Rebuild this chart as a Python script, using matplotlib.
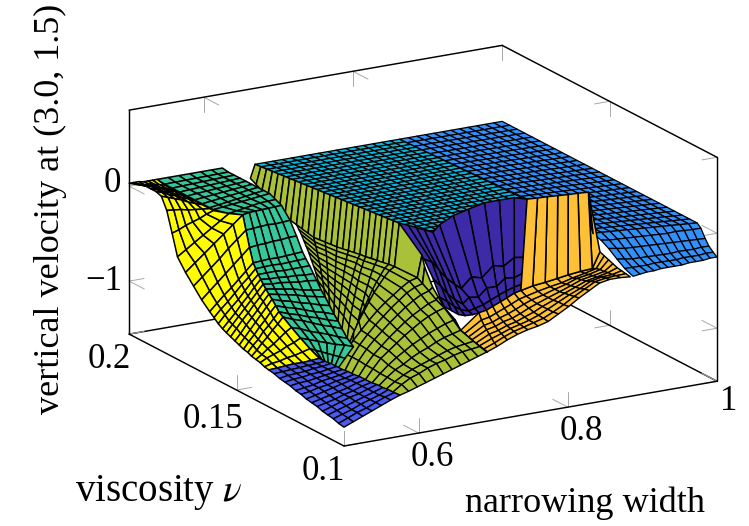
import numpy as np
import matplotlib
matplotlib.use("Agg")
import matplotlib.pyplot as plt
from mpl_toolkits.mplot3d import proj3d
from mpl_toolkits.mplot3d.art3d import Poly3DCollection

plt.rcParams['font.family'] = ['Liberation Serif', 'DejaVu Serif']
plt.rcParams['mathtext.fontset'] = 'stix'

X_LIM = (0.5, 1.0)
Y_LIM = (0.1, 0.2)
Z_LIM = (-1.558, 0.8)
x_ticks = [0.6, 0.8, 1.0]
y_ticks = [0.1, 0.15, 0.2]
z_ticks = [-1, 0]

# ---- patch outlines, in mesh units: x = 0.5 + 0.0125*i, y = 0.1 + 0.0025*j
# royal blue patch
royal_z = [
 [-1.36,-1.32,-1.28,-1.24,-1.2,-1.16,-1.125],[-1.35,-1.31,-1.27,-1.24,-1.2,-1.16,-1.13],
 [-1.33,-1.3,-1.27,-1.23,-1.2,-1.17,-1.13],[-1.32,-1.29,-1.26,-1.23,-1.2,-1.17,-1.14],
 [-1.31,-1.28,-1.25,-1.22,-1.2,-1.17,-1.14],[-1.29,-1.27,-1.25,-1.22,-1.2,-1.17,-1.15],
 [-1.28,-1.26,-1.24,-1.22,-1.2,-1.17,-1.15],[-1.27,-1.25,-1.23,-1.21,-1.19,-1.17,-1.15],
 [-1.25,-1.24,-1.22,-1.21,-1.19,-1.18,-1.16],[-1.24,-1.23,-1.22,-1.2,-1.19,-1.18,-1.16],
 [-1.22,-1.21,-1.21,-1.2,-1.19,-1.18,-1.17],[-1.21,-1.2,-1.2,-1.19,-1.19,-1.18,-1.17],
 [-1.2,-1.19,-1.19,-1.19,-1.18,-1.18,-1.17],[-1.18,-1.18,-1.18,-1.18,-1.18,-1.18,-1.18],
 [-1.17,-1.17,-1.17,-1.17,-1.18,-1.18,-1.18]]
royal_li = [0]*15
royal_lj = [0,1,2,3,4,5,6,7,8,9,10,11,12,13,14]
royal_ri = [6]*15
royal_rj = [0,1.07,2.14,3.21,4.29,5.36,6.43,7.5,8.57,9.64,10.71,11.79,12.86,13.93,15]

# yellow patch
yellow_z = [
 [.03,.03,.03,.02,.02,.02,.02],[.05,.04,.03,.03,.02,.01,0],[.07,.06,.05,.04,.02,.01,0],
 [.09,.08,.06,.05,.03,.02,0],[.09,.08,.06,.05,.03,.02,0],[.09,.08,.06,.05,.03,.02,0],
 [.07,.06,.05,.04,.02,.01,0],[-.05,-.04,-.03,-.03,-.02,-.01,0],[-.26,-.22,-.17,-.13,-.09,-.04,0],
 [-.48,-.40,-.32,-.24,-.16,-.08,0],[-.6,-.5,-.4,-.3,-.2,-.1,0],[-.70,-.61,-.52,-.43,-.33,-.24,-.15],
 [-.80,-.72,-.64,-.56,-.48,-.40,-.32],[-.88,-.81,-.74,-.68,-.61,-.54,-.47],[-.92,-.85,-.79,-.72,-.65,-.59,-.52],
 [-.96,-.89,-.83,-.77,-.70,-.63,-.57],[-.99,-.93,-.87,-.80,-.74,-.67,-.61],[-1.01,-.95,-.89,-.83,-.77,-.71,-.65],
 [-1.03,-.97,-.91,-.86,-.80,-.75,-.69],[-1.05,-1.0,-.94,-.89,-.84,-.78,-.73],[-1.07,-1.02,-.97,-.92,-.87,-.82,-.77],
 [-1.09,-1.04,-1.0,-.95,-.91,-.86,-.82],[-1.10,-1.06,-1.03,-.98,-.95,-.91,-.87],[-1.12,-1.09,-1.05,-1.02,-.98,-.95,-.91],
 [-1.13,-1.11,-1.08,-1.06,-1.03,-1.0,-.98],[-1.14,-1.12,-1.11,-1.10,-1.08,-1.07,-1.05],[-1.16,-1.15,-1.15,-1.14,-1.14,-1.13,-1.12],
 [-1.17,-1.17,-1.17,-1.17,-1.18,-1.18,-1.18]]
yellow_li = [0]*28
yellow_lj = [40,39,38,37,36,35,34,33,32,31,29.5,28,26.5,25,24.2,23.4,22.6,21.9,21.1,20.3,19.5,18.7,17.9,17.2,16.4,15.6,14.8,14]
yellow_ri = [3,3,3,3,3,3,3,3,3,3.8,4.7,4.8,4.9,5,5.04,5.08,5.12,5.16,5.2,5.25,5.3,5.35,5.4,5.5,5.6,5.7,5.85,6]
yellow_rj = [40,38.6,37.2,35.8,34.4,33,31.6,30.2,29.5,28,27,26.6,26.1,25.6,25.2,24.8,24.4,24,23.6,23.1,22.6,22,21.5,20.9,19.5,18,16.5,15]

# teal patch (left side shared with yellow)
teal_z = [
 [.02]*7,[.01]*7,[.01]*7,[.01]*7,[.01]*7,[.01]*7,[.01]*7,[.01]*7,[.01]*7,
 [0,0,0,0,0,-.01,-.02],[0,0,-.01,-.02,-.03,-.04,-.05],
 [-.15,-.15,-.15,-.15,-.16,-.16,-.16],[-.32,-.31,-.31,-.30,-.30,-.29,-.29],
 [-.47,-.46,-.45,-.45,-.44,-.43,-.42],[-.52,-.51,-.50,-.50,-.49,-.48,-.47],
 [-.57,-.56,-.55,-.55,-.54,-.53,-.52],[-.61,-.61,-.60,-.60,-.59,-.59,-.58],
 [-.65,-.65,-.64,-.64,-.64,-.63,-.63],[-.69,-.69,-.69,-.69,-.70,-.70,-.70],
 [-.73,-.73,-.73,-.73,-.74,-.74,-.74],[-.77,-.78,-.78,-.79,-.79,-.80,-.80],
 [-.82,-.83,-.83,-.84,-.85,-.85,-.86],[-.87,-.88,-.88,-.89,-.89,-.90,-.90],
 [-.91,-.92,-.92,-.93,-.94,-.94,-.95],[-.98,-.98,-.99,-.99,-.99,-1.0,-1.0],
 [-1.05,-1.05,-1.05,-1.05,-1.05,-1.04,-1.04],[-1.12,-1.12,-1.12,-1.12,-1.12,-1.12,-1.12],
 [-1.18,-1.18,-1.19,-1.19,-1.19,-1.2,-1.2]]
teal_ri = [10]*13+[9.95,9.9,9.85,9.8,9.75,9.65,9.5,9.4,9.3,9.15,9,8.7,8.5,7.2,6]
teal_rj = [40,38.9,37.8,36.7,35.6,34.5,33.4,32.3,31.2,30.1,29,27.4,26.2,25,24.3,23.5,22.7,22,21,20,19,18,17,16,14.5,13,12.3,11.7]

# olive wall: lower edge (base) and top edge, row by row
base_i = [13,13.1,13.2,13.3,13.4,13.5,13.6,13.7,13.8,13.9,14,14.1,14.2,14.3,14.4,14.5,14.6,14.7,14.8,14.9,15,15.1,15.2,15.3,15.4,15.5,
          16.5,16.6,16.7,16.8,16.8,16.8,16.7,15.9,15.3]
base_j = [40,39.1,38.2,37.3,36.4,35.5,34.6,33.7,32.8,31.9,31,30.1,29.2,28.3,27.4,26.5,25.6,24.7,23.8,22.9,22,21.1,20.2,19.3,18.4,17.5,
          15,14.2,13.2,12,10.5,8.8,7.3,3.5,0]
base_z = [-.14,-.18,-.22,-.26,-.31,-.35,-.38,-.41,-.43,-.45,-.48,-.49,-.49,-.49,-.49,-.49,-.49,-.48,-.48,-.47,-.47,-.46,-.46,-.46,-.45,-.45,
          -.51,-.55,-.60,-.66,-.70,-.78,-.84,-.83,-.83]
top_i = [13.5,13.6,13.7,13.8,13.9,14,14.1,14.2,14.3,14.4,14.5,14.6,14.7,14.8,14.9,15,15.1,15.2,15.3,15.4,15.5,15.6,15.7,15.8,15.9,16,
         17,17,17,17,17,17,17,16,15.4]
top_j = base_j[:26]+[15,14.5,13,12,10.8,8.8,7.8,3.5,0]
top_z = [0]*26+[-.28,-.39,-.56,-.63,-.71,-.78,-.86,-.84,-.83]

# olive floor: from the wall base across to the teal and royal blue patches
floor_bi = [13.8,14.1,14.3,14.5,14.7,14.9,15,15.2,15.4,15.5,16.5,16.6,16.7,16.8,16.8,16.8,16.7,15.9,15.6,15.3]
floor_bj = [32.8,30.1,28.3,26.5,24.7,22.9,22,20.2,18.4,17.5,15,14.2,13.2,12,10.5,8.8,7.3,3.5,1.8,0]
floor_fi = [9.6,9.5,9.4,9.3,9.15,9,8.7,8.5,7.7,6.9,6,6,6,6,6,6,6,6,6,6]
floor_fj = [21,20,19,18,17,16,14.5,13,12.5,12.1,11.7,10.4,9.1,7.8,6.5,5.2,3.9,2.6,1.3,0]
floor_z = [
 [-.43,-.44,-.45,-.47,-.49,-.51,-.54,-.57,-.60,-.65,-.70],
 [-.49,-.50,-.51,-.53,-.55,-.57,-.59,-.62,-.65,-.69,-.74],
 [-.49,-.50,-.51,-.53,-.56,-.59,-.62,-.65,-.69,-.74,-.80],
 [-.49,-.50,-.52,-.54,-.57,-.60,-.64,-.68,-.73,-.79,-.86],
 [-.48,-.49,-.51,-.54,-.57,-.61,-.65,-.70,-.75,-.82,-.90],
 [-.47,-.48,-.50,-.54,-.58,-.62,-.67,-.72,-.78,-.85,-.95],
 [-.47,-.48,-.51,-.54,-.59,-.63,-.69,-.75,-.81,-.89,-1.0],
 [-.46,-.47,-.50,-.54,-.59,-.64,-.70,-.76,-.83,-.92,-1.04],
 [-.45,-.46,-.50,-.54,-.59,-.65,-.72,-.79,-.87,-.97,-1.1],
 [-.45,-.46,-.50,-.55,-.60,-.67,-.74,-.81,-.90,-1.01,-1.15],
 [-.51,-.52,-.56,-.61,-.66,-.72,-.79,-.87,-.95,-1.06,-1.2],
 [-.55,-.56,-.59,-.64,-.69,-.75,-.81,-.88,-.96,-1.06,-1.19],
 [-.60,-.61,-.64,-.68,-.73,-.78,-.84,-.90,-.97,-1.06,-1.18],
 [-.66,-.67,-.70,-.73,-.77,-.82,-.87,-.93,-.99,-1.07,-1.17],
 [-.70,-.71,-.73,-.76,-.80,-.84,-.89,-.94,-.99,-1.07,-1.16],
 [-.78,-.79,-.81,-.83,-.86,-.89,-.93,-.97,-1.02,-1.08,-1.15],
 [-.84,-.85,-.86,-.88,-.91,-.93,-.96,-1.0,-1.03,-1.08,-1.14],
 [-.83,-.84,-.85,-.87,-.90,-.93,-.96,-.99,-1.03,-1.08,-1.14],
 [-.83,-.84,-.85,-.87,-.90,-.92,-.95,-.99,-1.02,-1.07,-1.13],
 [-.83,-.86,-.89,-.92,-.95,-.98,-1.01,-1.04,-1.07,-1.10,-1.125]]

# dark purple patch
purple_z = [
 [0]*12,
 [-.28,-.3,-.38,-.45,-.50,-.58,-.50,-.54,-.44,-.46,-.38,-.37],
 [-.45,-.52,-.6,-.65,-.69,-.64,-.66,-.58,-.58,-.50,-.50,-.45],
 [-.62,-.66,-.71,-.74,-.75,-.73,-.70,-.66,-.61,-.57,-.53,-.50],
 [-.70,-.74,-.78,-.79,-.78,-.76,-.73,-.69,-.64,-.60,-.55,-.52]]
purple_ti = [16,16.4,16.7,17,17.3,19,21.5,23.7,26,27.6,29.2,30]
purple_tj = [17.5,16.5,15.5,14.5,13.5,15.2,17,18,19,19,19,18]
purple_bi = [17,17.55,18.1,18.6,19.2,19.7,20.3,20.8,21.4,21.9,22.5,23]
purple_bj = [10.8,10.45,10.1,9.75,9.4,9.1,8.7,8.4,8,7.7,7.35,7]
purple_f = [0,.55,.75,.9,1]

# orange floor
orange_z = [
 [-.86,-.76,-.73,-.69,-.64,-.60,-.55,-.52,-.48,-.45,-.42,-.39,-.36,-.34,-.19],
 [-.86,-.79,-.76,-.72,-.67,-.63,-.58,-.55,-.51,-.47,-.44,-.40,-.36,-.32,-.21],
 [-.86,-.80,-.77,-.73,-.69,-.65,-.60,-.56,-.52,-.47,-.43,-.38,-.35,-.31,-.23],
 [-.85,-.80,-.77,-.73,-.70,-.66,-.61,-.57,-.52,-.47,-.42,-.37,-.34,-.31,-.25],
 [-.85,-.80,-.77,-.73,-.70,-.66,-.62,-.57,-.52,-.46,-.41,-.36,-.33,-.30,-.27],
 [-.84,-.80,-.76,-.72,-.69,-.66,-.62,-.57,-.51,-.45,-.40,-.34,-.31,-.30,-.28],
 [-.84,-.80,-.75,-.71,-.68,-.65,-.62,-.57,-.51,-.44,-.38,-.32,-.30,-.29,-.29],
 [-.83,-.79,-.74,-.70,-.67,-.65,-.62,-.56,-.50,-.43,-.37,-.31,-.29,-.29,-.30]]
orange_ti = [17,19.7,20.3,20.8,21.4,21.9,22.5,23,24.1,25.2,26.3,27.3,28.4,29.5,30.5]
orange_tj = [7.8,9.1,8.7,8.4,8,7.7,7.35,7,6.7,6.3,6,5.7,5.3,5,5.3]
orange_bi = [15.3,16.4,17.5,18.6,19.7,20.8,21.9,23,24.1,25.2,26.3,27.4,28.5,29.6,30.7]

# orange wall: top edge on the plateau, lower edge on the floor
wall_ti = [30,31,32,33,34,35,36,36]
wall_tj = [18,17.8,17.7,17.5,17.3,17.2,17,17]
wall_bi = [23,24.1,25.2,26.3,27.3,28.4,29.5,30.5]
wall_bj = [7,6.7,6.3,6,5.7,5.3,5,5.3]
wall_bz = [-.52,-.48,-.45,-.42,-.39,-.36,-.34,-.19]

# cyan plateau, its lower part hidden behind the purple and olive walls
cyan_level = 0.0
cyan_ti = [13.5,14.5,15.4,16.4,17.4,18.3,19.3,20.3,21.3,22.2,23.2,24.2,25.1,26.1,27.1,28,29]
cyan_bi = [16.5,17.3,18.1,18.9,19.7,20.5,21.3,22.1,23,23.8,24.6,25.4,26.2,27,27.8,28.7,30]
cyan_rows = 28
cyan_bottom = 13

# right blue patch
blue_level = 0.0
blue_edge_z = [
 [-.04,-.05,-.05,-.05,-.05,-.05,-.05,-.05,-.05,-.04,-.04,-.04,-.035],
 [-.10,-.11,-.12,-.12,-.12,-.12,-.12,-.12,-.12,-.12,-.12,-.12,-.12],
 [-.18,-.19,-.2,-.2,-.2,-.2,-.2,-.2,-.19,-.19,-.19,-.18,-.18],
 [-.25,-.25,-.25,-.25,-.24,-.24,-.24,-.24,-.23,-.23,-.23,-.22,-.22],
 [-.30,-.29,-.28,-.28,-.27,-.27,-.27,-.27,-.26,-.26,-.26,-.25,-.25]]
blue_li = [29,29.06,29.12,29.18,29.24,29.3,29.36,29.42,29.48,29.54,29.6,29.66,29.72,29.78,29.84,29.9,29.96,
           30,30,30,30,30,30,30,30,30,30,30.2,30.4,30.6,30.8,31]
blue_lj = [40,38.7,37.4,36.1,34.7,33.4,32.1,30.8,29.5,28.2,26.8,25.5,24.2,22.9,21.6,20.3,19,17.6,16.3,15,13.7,12.4,11.1,9.7,8.4,7.1,5.8,
           4.6,3.5,2.3,1.2,0]
blue_ri = [40]*32
blue_rj = [40,38.6,37.2,35.8,34.4,33,31.6,30.2,28.8,27.4,26,24.6,23.2,21.9,20.5,19.1,17.7,16.3,14.9,13.5,12.1,10.7,9.3,7.9,6.5,5.1,3.7,
           3,2.2,1.5,.7,0]

# narrow purple sliver beside the orange wall
sliver_i = [36,30,36,36]
sliver_j = [17,5.8,16.7,16.7]
sliver_z = [0,0,-.34,-.34]

COL = dict(yellow='#fffb00', teal='#36c89a', olive='#a9c138', purple='#3d2aa8',
           orange='#fdc036', blue='#3290fa', cyan='#0fb4d8', royal='#4a5bf0')

fig = plt.figure(figsize=(7.49, 5.26), dpi=100)
ax = fig.add_axes([100/749, 10/526, 500/749, 500/526], projection='3d', proj_type='ortho',
                  computed_zorder=False)
ax.view_init(elev=17.5, azim=-120)
ax.set_box_aspect((431, 430, 235))
ax.set_xlim(*X_LIM); ax.set_ylim(*Y_LIM); ax.set_zlim(*Z_LIM)
ax.set_axis_off()
ax.patch.set_alpha(0)


def to_x(i):
    return 0.5 + 0.0125*np.asarray(i, float)


def to_y(j):
    return 0.1 + 0.0025*np.asarray(j, float)


def add_mesh(I, J, Z, color, order, lw=1.1):
    X, Y, Z = to_x(I), to_y(J), np.asarray(Z, float)
    polys = []
    for r in range(X.shape[0]-1):
        for c in range(X.shape[1]-1):
            polys.append([(X[r, c], Y[r, c], Z[r, c]), (X[r, c+1], Y[r, c+1], Z[r, c+1]),
                          (X[r+1, c+1], Y[r+1, c+1], Z[r+1, c+1]), (X[r+1, c], Y[r+1, c], Z[r+1, c])])
    pc = Poly3DCollection(polys, facecolors=color, edgecolors='k', linewidths=lw, zsort='average')
    pc.set_zorder(order)
    ax.add_collection3d(pc, autolim=False)


def across(li, lj, ri, rj, nc):
    w = np.arange(nc+1)/nc
    li, lj, ri, rj = map(lambda a: np.asarray(a, float)[:, None], (li, lj, ri, rj))
    return li+(ri-li)*w, lj+(rj-lj)*w


def down(ti, tj, bi, bj, f):
    f = np.asarray(f, float)[:, None]
    ti, tj, bi, bj = map(lambda a: np.asarray(a, float)[None, :], (ti, tj, bi, bj))
    return ti+(bi-ti)*f, tj+(bj-tj)*f


def segment(a, b, color='k', lw=1.05, order=1):
    ax.plot([a[0], b[0]], [a[1], b[1]], [a[2], b[2]], color=color, lw=lw, zorder=order,
            solid_capstyle='round', clip_on=False)


# box and ticks behind the surface
x0, x1 = X_LIM; y0, y1 = Y_LIM; z0, z1 = Z_LIM
for a, b in [((x0, y1, z0), (x1, y1, z0)), ((x1, y0, z0), (x1, y1, z0)),
             ((x0, y1, z1), (x1, y1, z1)), ((x1, y0, z1), (x1, y1, z1))]:
    segment(a, b)
dz, dy, dx = .158, .007, .02
tick = dict(color='#a8a8a8', lw=0.7, order=0.5)
tick_f = dict(color='#a8a8a8', lw=0.7, order=20)
for x in x_ticks:
    segment((x, y0, z0), (x, y0, z0+dz), **tick_f); segment((x, y0, z0), (x, y0+dy, z0), **tick_f)
    segment((x, y1, z1), (x, y1, z1-dz), **tick); segment((x, y1, z1), (x, y1-dy, z1), **tick)
segment((x0, y0, z0), (x0, y0, z0+dz), **tick_f)
for y in y_ticks:
    segment((x0, y, z0), (x0, y, z0+dz), **tick_f); segment((x0, y, z0), (x0+dx, y, z0), **tick_f)
    segment((x1, y, z0), (x1, y, z0+dz), **tick); segment((x1, y, z0), (x1-dx, y, z0), **tick)
    segment((x1, y, z1), (x1, y, z1-dz), **tick); segment((x1, y, z1), (x1-dx, y, z1), **tick)
for z in z_ticks:
    segment((x0, y1, z), (x0+dx, y1, z), **tick); segment((x0, y1, z), (x0, y1-dy, z), **tick)
    segment((x1, y0, z), (x1-dx, y0, z), **tick); segment((x1, y0, z), (x1, y0+dy, z), **tick)

# surface patches, painted back to front
rows = np.arange(cyan_rows+1)/cyan_rows
I, J = down(cyan_ti, [40]*17, cyan_bi, [cyan_bottom]*17, rows)
add_mesh(I, J, np.full(I.shape, cyan_level), COL['cyan'], 2, lw=0.9)

I, J = across(blue_li, blue_lj, blue_ri, blue_rj, 12)
Z = np.full(I.shape, blue_level); Z[27:] = blue_edge_z
add_mesh(I, J, Z, COL['blue'], 3, lw=0.9)

I, J = down(purple_ti, purple_tj, purple_bi, purple_bj, purple_f)
add_mesh(I, J, purple_z, COL['purple'], 4)

I, J = down(orange_ti, orange_tj, orange_bi, [0]*15, np.arange(8)/7)
add_mesh(I, J, orange_z, COL['orange'], 5, lw=1.0)

I = np.array([wall_ti, wall_bi], float); J = np.array([wall_tj, wall_bj], float)
add_mesh(I, J, np.array([[0]*8, wall_bz], float), COL['orange'], 6)
add_mesh(np.array(sliver_i, float).reshape(2, 2), np.array(sliver_j, float).reshape(2, 2),
         np.array(sliver_z, float).reshape(2, 2), COL['purple'], 7)

I = np.column_stack([base_i, top_i]); J = np.column_stack([base_j, top_j])
add_mesh(I, J, np.column_stack([base_z, top_z]), COL['olive'], 7.5)

I, J = across(floor_bi, floor_bj, floor_fi, floor_fj, 10)
add_mesh(I, J, floor_z, COL['olive'], 8, lw=1.0)

I, J = across(yellow_ri, yellow_rj, teal_ri, teal_rj, 6)
add_mesh(I, J, teal_z, COL['teal'], 9)

I, J = across(yellow_li, yellow_lj, yellow_ri, yellow_rj, 6)
add_mesh(I, J, yellow_z, COL['yellow'], 10)

I, J = across(royal_li, royal_lj, royal_ri, royal_rj, 6)
add_mesh(I, J, royal_z, COL['royal'], 11, lw=1.0)

# box edges in front
for a, b in [((x0, y0, z0), (x1, y0, z0)), ((x0, y0, z0), (x0, y1, z0)),
             ((x0, y1, z0), (x0, y1, z1)), ((x1, y0, z0), (x1, y0, z1))]:
    segment(a, b, order=21)

# place the box on the canvas
W, H = 749, 526
fig.canvas.draw()


def pix(x, y, z):
    a, b, _ = proj3d.proj_transform(x, y, z, ax.get_proj())
    return ax.transData.transform((a, b))


pF, pR = pix(x0, y0, z0), pix(x1, y0, z0)
pos = ax.get_position()
S0 = pos.width*W
C0 = np.array([(pos.x0+pos.width/2)*W, (pos.y0+pos.height/2)*H])
k = 373/(pR[0]-pF[0])
target = np.array([344, H-446])
C = target-k*(pF-C0)
S = S0*k
ax.set_position([(C[0]-S/2)/W, (C[1]-S/2)/H, S/W, S/H])


def label(px, py, s, **kw):
    fig.text(px/W, 1-py/H, s, ha=kw.pop('ha', 'center'), va=kw.pop('va', 'center'), fontsize=kw.pop('fontsize', 25), **kw)


label(112, 184, '0')
label(122, 281, '\u22121', ha='right')
label(109, 360, '0.2')
label(213, 420, '0.15')
label(323, 471, '0.1')
label(432, 457, '0.6')
label(581, 432, '0.8')
label(729, 402, '1')
label(50, 209, 'vertical velocity at (3.0, 1.5)', rotation=90, fontsize=26)
label(159, 493, 'viscosity $\\nu$', fontsize=28)
label(585, 503, 'narrowing width', fontsize=26)

fig.savefig('out.png', dpi=100)
